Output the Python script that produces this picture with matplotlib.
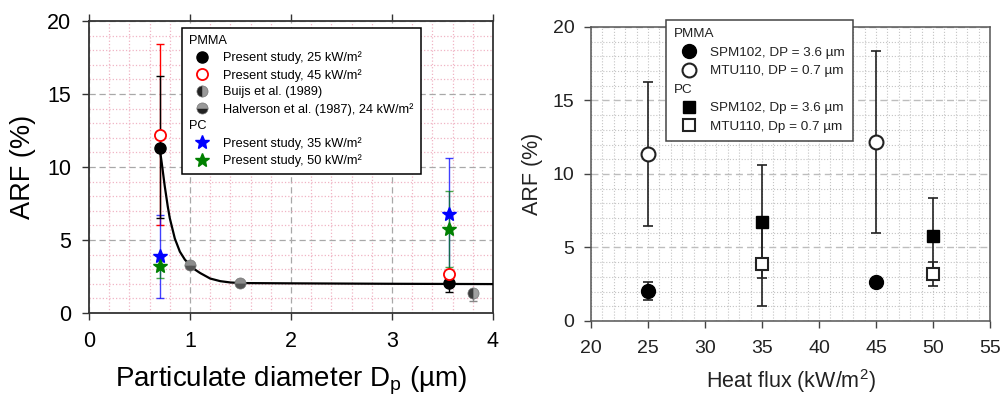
import matplotlib
matplotlib.use("Agg")
import matplotlib.pyplot as plt
from matplotlib.lines import Line2D
from matplotlib.ticker import MultipleLocator

plt.rcParams["font.family"] = ["Liberation Sans", "DejaVu Sans"]
plt.rcParams["mathtext.default"] = "regular"

# -------------------------
# dados - painel esquerdo (ARF x diametro)
# -------------------------
dp = [0.7, 3.56]
arf_pmma25 = [11.3, 2.05]
err_pmma25 = [[4.8, 0.6], [4.9, 0.55]]
arf_pmma45 = [12.2, 2.65]
err_pmma45 = [[6.2, 0.0], [6.2, 0.0]]
arf_pc35 = [3.9, 6.75]
err_pc35 = [[2.85, 3.85], [2.8, 3.85]]
arf_pc50 = [3.2, 5.75]
err_pc50 = [[0.8, 2.6], [0.8, 2.6]]

buijs_dp = [3.8]
buijs_arf = [1.4]
buijs_err = [[0.6], [0.0]]
halverson_dp = [1.0, 1.5]
halverson_arf = [3.3, 2.05]

# curva ajustada
fit_dp = [0.70, 0.72, 0.75, 0.78, 0.80, 0.85, 0.90, 0.95, 1.00, 1.05, 1.10,
          1.20, 1.30, 1.40, 1.50, 2.0, 3.0, 4.0]
fit_arf = [11.3, 10.3, 8.7, 7.3, 6.5, 5.1, 4.2, 3.65, 3.3, 2.97, 2.74,
           2.36, 2.18, 2.09, 2.05, 2.03, 2.0, 1.98]

# -------------------------
# dados - painel direito (ARF x fluxo de calor)
# -------------------------
flux_pmma = [25, 45]
spm_pmma = [2.05, 2.65]
spm_pmma_err = [[0.6, 0.0], [0.6, 0.0]]
mtu_pmma = [11.35, 12.2]
mtu_pmma_err = [[4.9, 6.2], [4.9, 6.2]]

flux_pc = [35, 50]
spm_pc = [6.75, 5.75]
spm_pc_err = [[3.85, 2.6], [3.85, 2.6]]
mtu_pc = [3.9, 3.2]
mtu_pc_err = [[2.85, 0.8], [2.8, 0.8]]


def headers_left(leg, headers):
    # titulos de grupo (PMMA / PC) alinhados a esquerda, sem simbolo
    for col in leg._legend_handle_box.get_children():
        for row in col.get_children():
            da, ta = row.get_children()
            if ta.get_text() in headers:
                da.width = 0
                row.sep = 0


fig = plt.figure(figsize=(10.03, 3.98), dpi=100)

# =========================
# painel esquerdo
# =========================
ax1 = fig.add_axes([0.0887, 0.2136, 0.4028, 0.7337])
ax1.set_xlim(0, 4)
ax1.set_ylim(0, 20)
ax1.xaxis.set_major_locator(MultipleLocator(1))
ax1.yaxis.set_major_locator(MultipleLocator(5))
ax1.xaxis.set_minor_locator(MultipleLocator(0.2))
ax1.yaxis.set_minor_locator(MultipleLocator(1))
ax1.grid(which="minor", color="#f0b4c4", linestyle=":", linewidth=0.9)
ax1.grid(which="major", color="#a8a8a8", linestyle=(0, (5, 3)), linewidth=0.9)
ax1.set_axisbelow(True)
ax1.tick_params(which="minor", length=0)
ax1.tick_params(which="major", direction="out", length=5, width=1,
                labelsize=15.5, top=True, pad=8, color="#333333")
for s in ax1.spines.values():
    s.set_color("#333333")
    s.set_linewidth(1.3)

ax1.plot(fit_dp, fit_arf, color="black", linewidth=1.6, zorder=3,
         solid_joinstyle="round")

ax1.errorbar(dp, arf_pmma45, yerr=err_pmma45, fmt="none", ecolor="red",
             elinewidth=1, capsize=3, zorder=2)
ax1.errorbar(dp, arf_pc35, yerr=err_pc35, fmt="none", ecolor="blue",
             elinewidth=1, capsize=3, zorder=2, alpha=0.75)
ax1.errorbar(dp, arf_pc50, yerr=err_pc50, fmt="none", ecolor="green",
             elinewidth=1, capsize=3, zorder=2, alpha=0.7)
ax1.errorbar(dp, arf_pmma25, yerr=err_pmma25, fmt="none", ecolor="black",
             elinewidth=1, capsize=3, zorder=2)
ax1.errorbar(buijs_dp, buijs_arf, yerr=buijs_err, fmt="none", ecolor="#888888",
             elinewidth=1, capsize=3, zorder=2)

ax1.plot(halverson_dp, halverson_arf, linestyle="none", marker="o",
         markersize=8, fillstyle="bottom", markerfacecolor="#555555",
         markerfacecoloralt="#8c8c8c", markeredgecolor="#777777",
         markeredgewidth=0.5, zorder=4)
ax1.plot(buijs_dp, buijs_arf, linestyle="none", marker="o",
         markersize=8, fillstyle="left", markerfacecolor="#3c3c3c",
         markerfacecoloralt="#a0a0a0", markeredgecolor="#777777",
         markeredgewidth=0.5, zorder=4)
ax1.plot(dp, arf_pmma25, linestyle="none", marker="o", markersize=8,
         color="black", zorder=5)
ax1.plot(dp, arf_pmma45, linestyle="none", marker="o", markersize=8,
         markerfacecolor="white", markeredgecolor="red", markeredgewidth=1.3,
         zorder=5)
ax1.plot(dp, arf_pc35, linestyle="none", marker="*", markersize=10,
         color="blue", zorder=5)
ax1.plot(dp, arf_pc50, linestyle="none", marker="*", markersize=10,
         color="green", zorder=5)

ax1.set_xlabel("Particulate diameter D$_p$ (µm)", fontsize=20, labelpad=9)
ax1.set_ylabel("ARF (%)", fontsize=19.5, labelpad=8)

h1 = [
    Line2D([], [], linestyle="none"),
    Line2D([], [], linestyle="none", marker="o", markersize=8, color="black"),
    Line2D([], [], linestyle="none", marker="o", markersize=8,
           markerfacecolor="white", markeredgecolor="red", markeredgewidth=1.3),
    Line2D([], [], linestyle="none", marker="o", markersize=8, fillstyle="left",
           markerfacecolor="#222222", markerfacecoloralt="#999999",
           markeredgecolor="#777777", markeredgewidth=0.5),
    Line2D([], [], linestyle="none", marker="o", markersize=8, fillstyle="bottom",
           markerfacecolor="#222222", markerfacecoloralt="#999999",
           markeredgecolor="#777777", markeredgewidth=0.5),
    Line2D([], [], linestyle="none"),
    Line2D([], [], linestyle="none", marker="*", markersize=10, color="blue"),
    Line2D([], [], linestyle="none", marker="*", markersize=10, color="green"),
]
l1 = ["PMMA", "Present study, 25 kW/m²", "Present study, 45 kW/m²",
      "Buijs et al. (1989)", "Halverson et al. (1987), 24 kW/m²",
      "PC", "Present study, 35 kW/m²", "Present study, 50 kW/m²"]
leg1 = ax1.legend(h1, l1, loc="upper left", bbox_to_anchor=(0.23, 0.976),
                  fontsize=9.2, frameon=True, fancybox=False, framealpha=1,
                  edgecolor="black", handlelength=2.1, handletextpad=0.6,
                  labelspacing=0.36, borderpad=0.55, borderaxespad=0)
leg1.get_frame().set_linewidth(1.1)
headers_left(leg1, ["PMMA", "PC"])

# =========================
# painel direito
# =========================
ax2 = fig.add_axes([0.5892, 0.1935, 0.3978, 0.7387])
ax2.set_xlim(20, 55)
ax2.set_ylim(0, 20)
ax2.xaxis.set_major_locator(MultipleLocator(5))
ax2.yaxis.set_major_locator(MultipleLocator(5))
ax2.xaxis.set_minor_locator(MultipleLocator(1))
ax2.yaxis.set_minor_locator(MultipleLocator(1))
ax2.grid(which="minor", color="#c4c4c4", linestyle=":", linewidth=0.8)
ax2.grid(which="major", axis="x", color="#c4c4c4", linestyle=":", linewidth=0.8)
ax2.grid(which="major", axis="y", color="#bdbdbd", linestyle=(0, (5, 3)),
         linewidth=1)
ax2.set_axisbelow(True)
ax2.tick_params(which="minor", length=0)
ax2.tick_params(which="major", direction="out", length=5, width=1,
                labelsize=14, pad=7, color="#444444", labelcolor="#222222")
ax2.tick_params(axis="x", pad=9)
for s in ax2.spines.values():
    s.set_color("#555555")
    s.set_linewidth(1.1)

for xs, ys, es in [(flux_pmma, mtu_pmma, mtu_pmma_err),
                   (flux_pmma, spm_pmma, spm_pmma_err),
                   (flux_pc, spm_pc, spm_pc_err),
                   (flux_pc, mtu_pc, mtu_pc_err)]:
    ax2.errorbar(xs, ys, yerr=es, fmt="none", ecolor="#222222",
                 elinewidth=1.2, capsize=3.5, capthick=1.2, zorder=2)

ax2.plot(flux_pmma, spm_pmma, linestyle="none", marker="o", markersize=10,
         color="black", zorder=4)
ax2.plot(flux_pmma, mtu_pmma, linestyle="none", marker="o", markersize=10,
         markerfacecolor="white", markeredgecolor="#222222",
         markeredgewidth=1.5, zorder=4)
ax2.plot(flux_pc, spm_pc, linestyle="none", marker="s", markersize=9,
         color="black", zorder=4)
ax2.plot(flux_pc, mtu_pc, linestyle="none", marker="s", markersize=9,
         markerfacecolor="white", markeredgecolor="#222222",
         markeredgewidth=1.5, zorder=4)

ax2.set_xlabel("Heat flux (kW/m$^2$)", fontsize=15.5, labelpad=7,
               color="#222222")
ax2.set_ylabel("ARF (%)", fontsize=15.5, labelpad=7, color="#222222")

h2 = [
    Line2D([], [], linestyle="none"),
    Line2D([], [], linestyle="none", marker="o", markersize=10, color="black"),
    Line2D([], [], linestyle="none", marker="o", markersize=10,
           markerfacecolor="white", markeredgecolor="#222222",
           markeredgewidth=1.5),
    Line2D([], [], linestyle="none"),
    Line2D([], [], linestyle="none", marker="s", markersize=9, color="black"),
    Line2D([], [], linestyle="none", marker="s", markersize=9,
           markerfacecolor="white", markeredgecolor="#222222",
           markeredgewidth=1.5),
]
l2 = ["PMMA", "SPM102, DP = 3.6 µm", "MTU110, DP = 0.7 µm",
      "PC", "SPM102, Dp = 3.6 µm", "MTU110, Dp = 0.7 µm"]
leg2 = ax2.legend(h2, l2, loc="upper left", bbox_to_anchor=(0.188, 1.024),
                  fontsize=9.7, frameon=True, fancybox=False, framealpha=1,
                  edgecolor="#444444", handlelength=2.2, handletextpad=0.5,
                  labelspacing=0.45, borderpad=0.6, borderaxespad=0)
leg2.get_frame().set_linewidth(1.1)
leg2.set_zorder(10)
headers_left(leg2, ["PMMA", "PC"])
for t in leg2.get_texts():
    t.set_color("#222222")

fig.savefig("out.png", dpi=100)
